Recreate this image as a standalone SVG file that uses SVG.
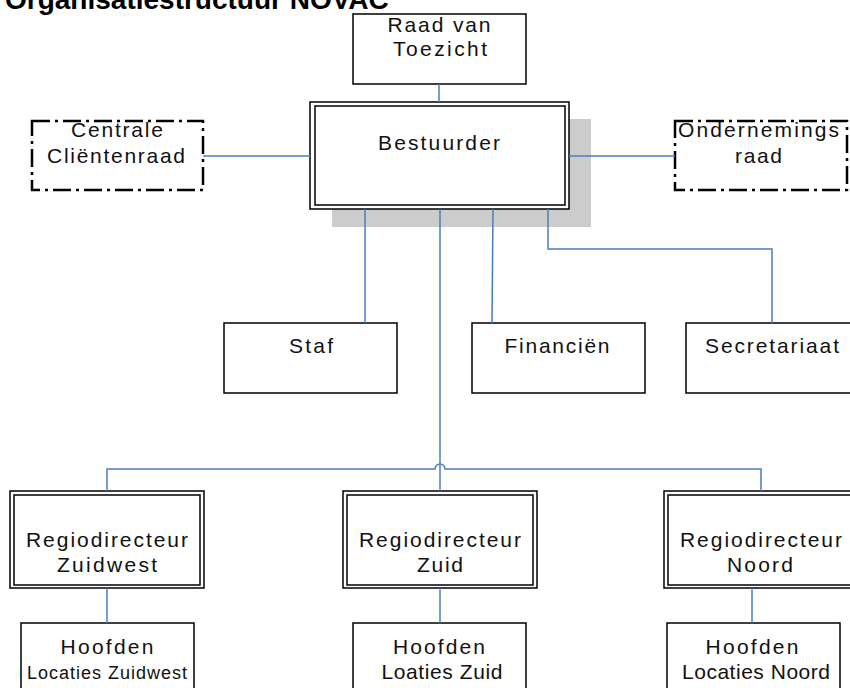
<svg xmlns="http://www.w3.org/2000/svg" width="850" height="688" viewBox="0 0 850 688">
<style>
  .box { fill: #fff; stroke: #000; stroke-width: 1.5; }
  .dd { fill: #fff; stroke: #000; stroke-width: 2.5; stroke-dasharray: 18 5 3 5; }
  .shadow { fill: #cccccc; }
  .t { font-family: "Liberation Sans", Arial, sans-serif; font-size: 21px; fill: #111; text-anchor: middle; }
  .ts { font-family: "Liberation Sans", Arial, sans-serif; font-size: 18px; fill: #111; text-anchor: middle; }
  .title { font-family: "Liberation Sans", Arial, sans-serif; font-size: 28px; font-weight: bold; fill: #000; }
  .c { fill: none; stroke: #4a7ebb; stroke-width: 1.5; }
</style>
<rect width="850" height="688" fill="#fff"/>
<text class="title" x="5" y="9">Organisatiestructuur NOVAC</text>

<g id="raad-van-toezicht">
  <rect class="box" x="353" y="14" width="173" height="70"/>
  <text class="t" x="439" y="32" textLength="103">Raad van</text>
  <text class="t" x="440" y="56" textLength="94">Toezicht</text>
</g>

<g id="bestuurder">
  <rect class="shadow" x="332" y="119" width="259" height="108"/>
  <rect class="box" x="310" y="102" width="259" height="107"/>
  <rect class="box" x="315" y="106" width="250" height="99"/>
  <text class="t" x="439" y="150" textLength="122">Bestuurder</text>
</g>

<g id="centrale-clientenraad">
  <rect class="dd" x="32" y="121" width="171" height="69"/>
  <text class="t" x="117" y="137" textLength="92">Centrale</text>
  <text class="t" x="116" y="163" textLength="138">Cliëntenraad</text>
</g>

<g id="ondernemingsraad">
  <rect class="dd" x="675" y="121" width="172" height="69"/>
  <text class="t" x="758.5" y="137" textLength="161">Ondernemings</text>
  <text class="t" x="758.5" y="163" textLength="47">raad</text>
</g>

<g id="staf">
  <rect class="box" x="224" y="323" width="173" height="70"/>
  <text class="t" x="311" y="353" textLength="44">Staf</text>
</g>

<g id="financien">
  <rect class="box" x="472" y="323" width="173" height="70"/>
  <text class="t" x="557" y="353" textLength="105">Financiën</text>
</g>

<g id="secretariaat">
  <rect class="box" x="686" y="323" width="173" height="70"/>
  <text class="t" x="772" y="353" textLength="134">Secretariaat</text>
</g>

<g id="regio-zuidwest">
  <rect class="box" x="10" y="491" width="194" height="97"/>
  <rect class="box" x="14" y="495" width="186" height="90"/>
  <text class="t" x="107" y="547" textLength="162">Regiodirecteur</text>
  <text class="t" x="107" y="572" textLength="100">Zuidwest</text>
</g>

<g id="regio-zuid">
  <rect class="box" x="343" y="491" width="194" height="97"/>
  <rect class="box" x="347" y="495" width="186" height="90"/>
  <text class="t" x="440" y="547" textLength="162">Regiodirecteur</text>
  <text class="t" x="440" y="572" textLength="46">Zuid</text>
</g>

<g id="regio-noord">
  <rect class="box" x="664" y="491" width="194" height="97"/>
  <rect class="box" x="668" y="495" width="186" height="90"/>
  <text class="t" x="761" y="547" textLength="162">Regiodirecteur</text>
  <text class="t" x="760" y="572" textLength="66">Noord</text>
</g>

<g id="hoofden-zuidwest">
  <rect class="box" x="21" y="623" width="173" height="70"/>
  <text class="t" x="107" y="654" textLength="93">Hoofden</text>
  <text class="ts" x="107" y="679" textLength="160">Locaties Zuidwest</text>
</g>

<g id="hoofden-zuid">
  <rect class="box" x="353" y="623" width="173" height="70"/>
  <text class="t" x="439" y="654" textLength="92">Hoofden</text>
  <text class="t" x="442" y="679" textLength="121">Loaties Zuid</text>
</g>

<g id="hoofden-noord">
  <rect class="box" x="667" y="623" width="173" height="70"/>
  <text class="t" x="752" y="654" textLength="93">Hoofden</text>
  <text class="t" x="756" y="679" textLength="148">Locaties Noord</text>
</g>

<g id="connectors">
  <path class="c" d="M439,84 V102"/>
  <path class="c" d="M203,156 H310"/>
  <path class="c" d="M569,156 H675"/>
  <path class="c" d="M365,209 V323"/>
  <path class="c" d="M493,209 L492,323"/>
  <path class="c" d="M548,209 V249 H772 V323"/>
  <path class="c" d="M440,209 V491"/>
  <path class="c" d="M107,491 V469 H435 A5,5 0 0 1 445,469 H761 V491"/>
  <path class="c" d="M107,588 V623"/>
  <path class="c" d="M440,588 V623"/>
  <path class="c" d="M752,588 V623"/>
</g>
</svg>
